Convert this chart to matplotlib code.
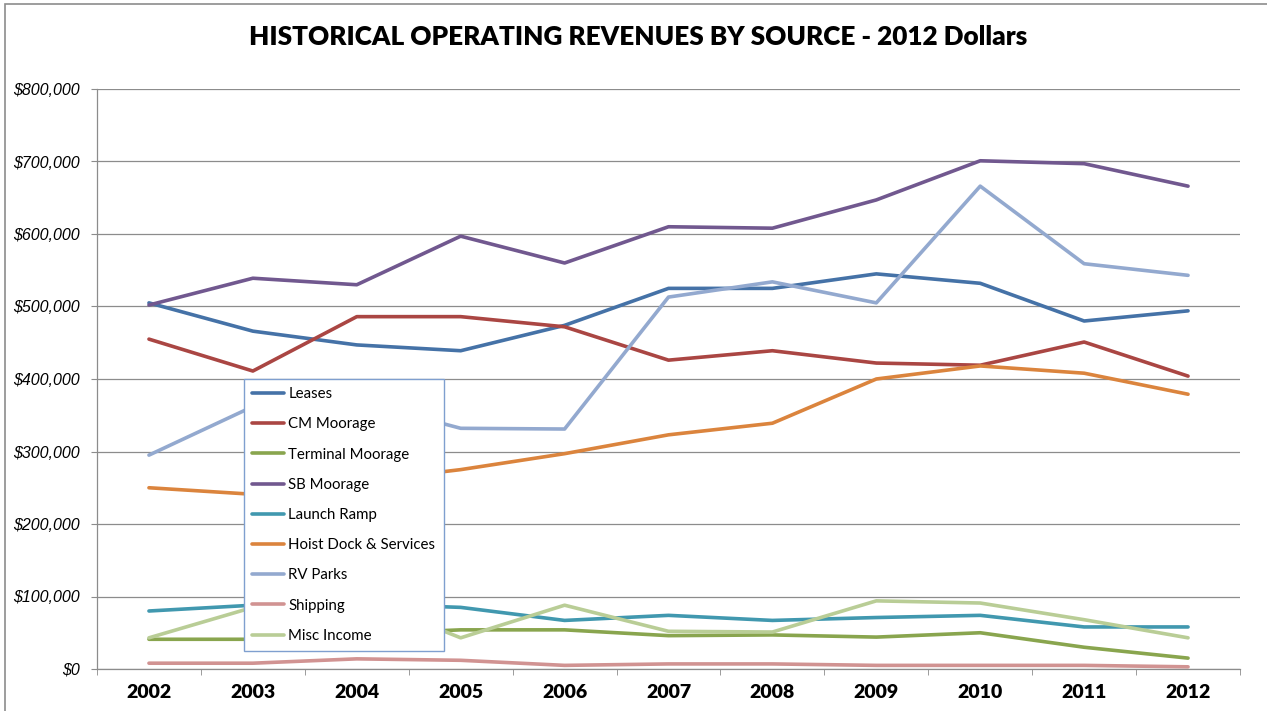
import matplotlib.pyplot as plt
from matplotlib.patches import Rectangle
from matplotlib.ticker import FuncFormatter, FixedLocator

years = ["2002", "2003", "2004", "2005", "2006", "2007", "2008", "2009", "2010", "2011", "2012"]

leases = [505000, 466000, 447000, 439000, 474000, 525000, 525000, 545000, 532000, 480000, 494000]
cm_moorage = [455000, 411000, 486000, 486000, 472000, 426000, 439000, 422000, 419000, 451000, 404000]
terminal_moorage = [41000, 41000, 48000, 54000, 54000, 46000, 47000, 44000, 50000, 30000, 15000]
sb_moorage = [502000, 539000, 530000, 597000, 560000, 610000, 608000, 647000, 701000, 697000, 666000]
launch_ramp = [80000, 88000, 90000, 85000, 67000, 74000, 67000, 71000, 74000, 58000, 58000]
hoist_dock = [250000, 241000, 258000, 275000, 297000, 323000, 339000, 400000, 418000, 408000, 379000]
rv_parks = [295000, 362000, 370000, 332000, 331000, 513000, 534000, 505000, 666000, 559000, 543000]
shipping = [8000, 8000, 14000, 12000, 5000, 7000, 7000, 5000, 5000, 5000, 3000]
misc_income = [43000, 85000, 100000, 43000, 88000, 52000, 51000, 94000, 91000, 68000, 43000]

series = [
    ("Leases", leases, "#4572A7"),
    ("CM Moorage", cm_moorage, "#AA4643"),
    ("Terminal Moorage", terminal_moorage, "#89A54E"),
    ("SB Moorage", sb_moorage, "#71588F"),
    ("Launch Ramp", launch_ramp, "#4198AF"),
    ("Hoist Dock & Services", hoist_dock, "#DB843D"),
    ("RV Parks", rv_parks, "#93A9CF"),
    ("Shipping", shipping, "#D19392"),
    ("Misc Income", misc_income, "#B9CD96"),
]

fig = plt.figure(figsize=(12.67, 7.11), dpi=100)
ax = fig.add_axes([97 / 1267, 1 - 669 / 711, (1240 - 97) / 1267, (669 - 89) / 711])

x = range(len(years))
for name, vals, color in series:
    ax.plot(x, vals, color=color, lw=2.6, label=name, solid_capstyle="round")

ax.set_xlim(-0.5, len(years) - 0.5)
ax.set_ylim(0, 800000)
ax.set_yticks(range(0, 800001, 100000))
ax.yaxis.set_major_formatter(FuncFormatter(lambda v, p: "${:,.0f}".format(v)))
ax.grid(axis="y", color="#8c8c8c", lw=0.9)
ax.set_axisbelow(True)

# category labels centred, ticks on the boundaries
ax.set_xticks(list(x))
ax.set_xticklabels(years, fontfamily="Lato", fontweight="heavy", fontsize=14)
ax.tick_params(axis="x", which="major", length=0, pad=11)
ax.xaxis.set_minor_locator(FixedLocator([i - 0.5 for i in range(len(years) + 1)]))
ax.tick_params(axis="x", which="minor", length=4.5, color="#8c8c8c", direction="out")
ax.tick_params(axis="y", length=4.5, color="#8c8c8c", direction="out", pad=8)
for lbl in ax.get_yticklabels():
    lbl.set_fontstyle("italic")
    lbl.set_fontsize(11.5)
    lbl.set_fontfamily("Liberation Sans")

for side in ["top", "right"]:
    ax.spines[side].set_visible(False)
for side in ["left", "bottom"]:
    ax.spines[side].set_color("#8c8c8c")
    ax.spines[side].set_linewidth(0.9)

fig.text(0.504, 1 - 37 / 711, "HISTORICAL OPERATING REVENUES BY SOURCE - 2012 Dollars",
         ha="center", va="center", fontsize=18.8, fontweight="heavy", fontfamily="Lato")

leg = ax.legend(loc="upper left", bbox_to_anchor=(244 / 1267, 1 - 379 / 711),
                bbox_transform=fig.transFigure, borderaxespad=0, fancybox=False,
                framealpha=1, edgecolor="#7f9fcf", handlelength=2.1,
                handletextpad=0.3, labelspacing=1.08, borderpad=0.55,
                prop={"family": "Lato", "size": 10.8})
leg.get_frame().set_linewidth(1.0)

# outer chart border
fig.patches.append(Rectangle((5 / 1267, -0.05), 1.1, 1 - 4 / 711 + 0.05,
                             transform=fig.transFigure, fill=False,
                             edgecolor="#8c8c8c", lw=1.2))

fig.savefig("out.png", dpi=100)
